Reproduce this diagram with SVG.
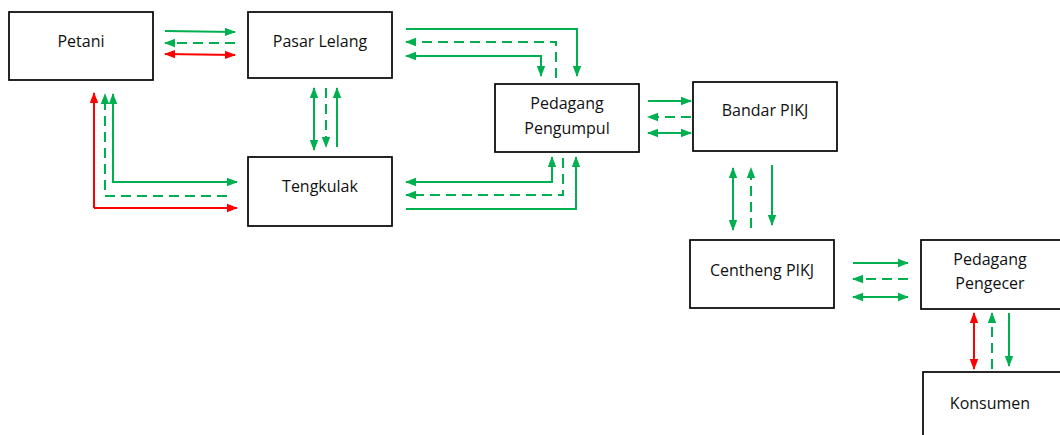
<svg xmlns="http://www.w3.org/2000/svg" width="1060" height="435" viewBox="0 0 1060 435">
<style>
.box{fill:#fff;stroke:#000;stroke-width:1.7}
.t{font-family:"Open Sans","Liberation Sans",sans-serif;font-size:16px;fill:#111;text-anchor:middle;dominant-baseline:central}
.g{fill:none;stroke:#00B050;stroke-width:2}
.r{fill:none;stroke:#FF0000;stroke-width:2}
.d{stroke-dasharray:10,6}
</style>
<defs>
<marker id="ag" markerUnits="userSpaceOnUse" markerWidth="11" markerHeight="10" viewBox="0 0 11 10" refX="10" refY="5" orient="auto-start-reverse"><path d="M0,0.8 L11,5 L0,9.2 Z" fill="#00B050"/></marker>
<marker id="ar" markerUnits="userSpaceOnUse" markerWidth="11" markerHeight="10" viewBox="0 0 11 10" refX="10" refY="5" orient="auto-start-reverse"><path d="M0,0.8 L11,5 L0,9.2 Z" fill="#FF0000"/></marker>
</defs>
<g id="connectors">
<path class="g" d="M165,31 L235,32" marker-end="url(#ag)"/>
<path class="g d" d="M235,43 L165,43" marker-end="url(#ag)"/>
<path class="r" d="M165,54 L235,55" marker-start="url(#ar)" marker-end="url(#ar)"/>
<path class="r" d="M94,208 L94,93" marker-end="url(#ar)"/>
<path class="r" d="M94,208 L237,208" marker-end="url(#ar)"/>
<path class="g d" d="M227,196 L105,196 L105,94" marker-end="url(#ag)"/>
<path class="g" d="M113,94 L113,182 L237,182" marker-start="url(#ag)" marker-end="url(#ag)"/>
<path class="g" d="M314,88 L314,150" marker-start="url(#ag)" marker-end="url(#ag)"/>
<path class="g d" d="M326,88 L326,147" marker-end="url(#ag)"/>
<path class="g" d="M337,147 L337,88" marker-end="url(#ag)"/>
<path class="g" d="M406,29 L577,29 L577,76" marker-end="url(#ag)"/>
<path class="g d" d="M556,78 L556,42 L406,42" marker-end="url(#ag)"/>
<path class="g" d="M406,56 L541,56 L541,76" marker-start="url(#ag)" marker-end="url(#ag)"/>
<path class="g" d="M406,182 L552,182 L552,157" marker-start="url(#ag)" marker-end="url(#ag)"/>
<path class="g d" d="M563,158 L563,195 L406,195" marker-end="url(#ag)"/>
<path class="g" d="M406,209 L576,209 L576,157" marker-end="url(#ag)"/>
<path class="g" d="M648,101 L691,101" marker-end="url(#ag)"/>
<path class="g d" d="M691,117 L648,117" marker-end="url(#ag)"/>
<path class="g" d="M648,133 L691,133" marker-start="url(#ag)" marker-end="url(#ag)"/>
<path class="g" d="M733,168 L733,230" marker-start="url(#ag)" marker-end="url(#ag)"/>
<path class="g d" d="M751,228 L751,168" marker-end="url(#ag)"/>
<path class="g" d="M772,165 L772,225" marker-end="url(#ag)"/>
<path class="g" d="M853,263 L908,263" marker-end="url(#ag)"/>
<path class="g d" d="M908,279 L853,279" marker-end="url(#ag)"/>
<path class="g" d="M853,297 L908,297" marker-start="url(#ag)" marker-end="url(#ag)"/>
<path class="r" d="M974,313 L974,369" marker-start="url(#ar)" marker-end="url(#ar)"/>
<path class="g d" d="M992,369 L992,313" marker-end="url(#ag)"/>
<path class="g" d="M1009,313 L1009,366" marker-end="url(#ag)"/>
</g>
<g id="petani"><rect class="box" x="9" y="12" width="144" height="68"/><text class="t" x="81" y="41">Petani</text></g>
<g id="pasar-lelang"><rect class="box" x="248" y="12" width="144" height="66"/><text class="t" x="320" y="41">Pasar Lelang</text></g>
<g id="tengkulak"><rect class="box" x="248" y="157" width="144" height="69"/><text class="t" x="320" y="186">Tengkulak</text></g>
<g id="pedagang-pengumpul"><rect class="box" x="495" y="84" width="144" height="68"/><text class="t" x="567" y="103">Pedagang</text><text class="t" x="567" y="128">Pengumpul</text></g>
<g id="bandar-pikj"><rect class="box" x="693" y="82" width="144" height="69"/><text class="t" x="765" y="110">Bandar PIKJ</text></g>
<g id="centheng-pikj"><rect class="box" x="690" y="240" width="144" height="68"/><text class="t" x="762" y="270">Centheng PIKJ</text></g>
<g id="pedagang-pengecer"><rect class="box" x="921" y="240" width="144" height="69"/><text class="t" x="990" y="259">Pedagang</text><text class="t" x="990" y="283">Pengecer</text></g>
<g id="konsumen"><rect class="box" x="923" y="372" width="144" height="70"/><text class="t" x="990" y="403">Konsumen</text></g>
</svg>
